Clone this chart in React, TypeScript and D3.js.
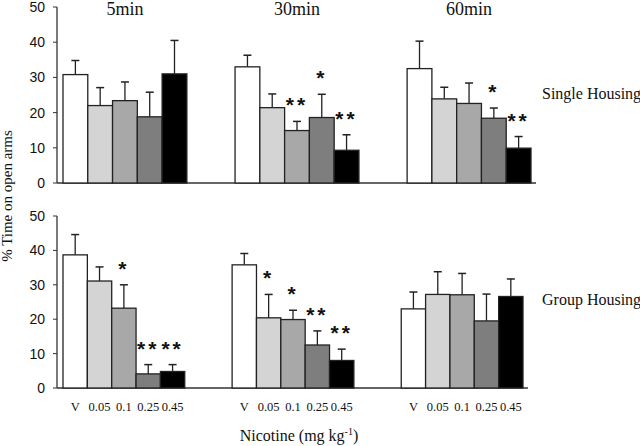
import React from 'react'
import * as d3 from 'd3'

const doses = ['V', '0.05', '0.1', '0.25', '0.45']
const times = ['5min', '30min', '60min']

// mean % time on open arms, per time point, per dose
const singleMean = [
  [30.8, 22.0, 23.4, 18.8, 31.0],
  [33.0, 21.4, 14.9, 18.6, 9.3],
  [32.5, 23.9, 22.6, 18.4, 9.9],
]
const singleSem = [
  [4.0, 5.1, 5.3, 7.0, 9.5],
  [3.3, 3.9, 2.6, 6.6, 4.4],
  [7.8, 3.3, 5.8, 2.9, 3.3],
]
const singleSig = [
  ['', '', '', '', ''],
  ['', '', '**', '*', '**'],
  ['', '', '', '*', '**'],
]

const groupMean = [
  [38.7, 31.1, 23.2, 4.1, 4.8],
  [35.8, 20.4, 19.9, 12.5, 8.0],
  [23.0, 27.2, 27.1, 19.5, 26.6],
]
const groupSem = [
  [5.9, 4.1, 6.8, 2.7, 2.0],
  [3.3, 6.8, 2.7, 4.1, 3.3],
  [4.9, 6.6, 6.2, 7.8, 5.1],
]
const groupSig = [
  ['', '', '*', '**', '**'],
  ['', '*', '*', '**', '**'],
  ['', '', '', '', ''],
]

const yTicks = [0, 10, 20, 30, 40, 50]
const fills = ['#ffffff', '#d4d4d4', '#a8a8a8', '#7e7e7e', '#000000']

const serif = "'Liberation Serif', 'Times New Roman', Times, serif"
const sans = "'Liberation Sans', Arial, sans-serif"

const Panel = ({ mean, sem, sig, label, top, bottom, right, showTitles, showDoses }) => {
  const y = d3.scaleLinear().domain([0, 50]).range([bottom, top])
  const xGroup = d3
    .scaleBand()
    .domain(times)
    .range([63, right])
    .paddingInner(0.28)
    .paddingOuter(0)
  const xDose = d3.scaleBand().domain(doses).range([0, xGroup.bandwidth()])
  const axisX = 57

  return (
    <g>
      {/* y axis */}
      <line x1={axisX} x2={axisX} y1={y(0)} y2={y(50)} stroke="#333" strokeWidth={1.3} />
      {yTicks.map(t => (
        <g key={t} transform={`translate(0,${y(t)})`}>
          <line x1={axisX - 4} x2={axisX} stroke="#333" strokeWidth={1} />
          <text x={axisX - 12} dy="0.35em" textAnchor="end" style={{ fontFamily: sans }} fontSize={14} fill="#111">
            {t}
          </text>
        </g>
      ))}
      <line x1={axisX} x2={right + 5} y1={y(0)} y2={y(0)} stroke="#333" strokeWidth={1.5} />

      {times.map((t, gi) => {
        const gx = xGroup(t)
        return (
          <g key={t} transform={`translate(${gx},0)`}>
            {showTitles && (
              <text
                x={xGroup.bandwidth() / 2}
                y={15}
                textAnchor="middle"
                style={{ fontFamily: serif }}
                fontSize={18}
                fill="#111"
              >
                {t}
              </text>
            )}
            {doses.map((d, di) => {
              const v = mean[gi][di]
              const capY = y(v + sem[gi][di])
              const cx = xDose(d) + xDose.bandwidth() / 2
              return (
                <g key={d}>
                  <line x1={cx} x2={cx} y1={y(v)} y2={capY} stroke="#222" strokeWidth={1.3} />
                  <line x1={cx - 4} x2={cx + 4} y1={capY} y2={capY} stroke="#222" strokeWidth={1.5} />
                  <rect
                    x={xDose(d)}
                    y={y(v)}
                    width={xDose.bandwidth()}
                    height={y(0) - y(v)}
                    fill={fills[di]}
                    stroke="#222"
                    strokeWidth={1.3}
                  />
                  {sig[gi][di] && (
                    <text
                      x={cx}
                      y={capY - 9}
                      textAnchor="middle"
                      style={{ fontFamily: sans }}
                      fontWeight="bold"
                      fontSize={21}
                      letterSpacing={3}
                      fill="#111"
                    >
                      {sig[gi][di]}
                    </text>
                  )}
                  {showDoses && (
                    <text
                      x={cx}
                      y={411}
                      textAnchor="middle"
                      style={{ fontFamily: serif }}
                      fontSize={12.5}
                      fill="#111"
                    >
                      {d}
                    </text>
                  )}
                </g>
              )
            })}
          </g>
        )
      })}

      <text x={542} y={y(24)} style={{ fontFamily: serif }} fontSize={16} fill="#111">
        {label}
      </text>
    </g>
  )
}

const App = () => (
  <svg
    width={640}
    height={446}
    style={{ position: 'absolute', left: 0, top: 0, background: '#fff' }}
  >
    <Panel
      mean={singleMean}
      sem={singleSem}
      sig={singleSig}
      label="Single Housing"
      top={7}
      bottom={183}
      right={531}
      showTitles
      showDoses={false}
    />
    <Panel
      mean={groupMean}
      sem={groupSem}
      sig={groupSig}
      label="Group Housing"
      top={216}
      bottom={388}
      right={523}
      showTitles={false}
      showDoses
    />
    <text
      transform="translate(12,196) rotate(-90)"
      textAnchor="middle"
      style={{ fontFamily: serif }}
      fontSize={15}
      fill="#111"
    >
      % Time on open arms
    </text>
    <text x={299} y={441} textAnchor="middle" style={{ fontFamily: serif }} fontSize={16} fill="#111">
      Nicotine (mg kg
      <tspan fontSize={10} dy={-6}>-1</tspan>
      <tspan dy={6}>)</tspan>
    </text>
  </svg>
)

export default App
